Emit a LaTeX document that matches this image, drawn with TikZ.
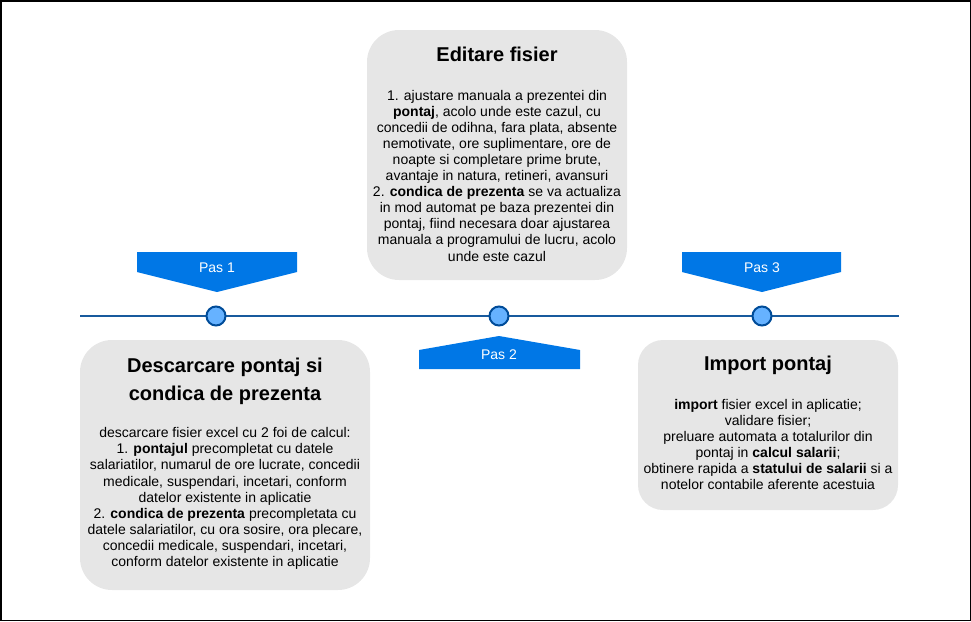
\documentclass[tikz,border=0pt]{standalone}
\usepackage{fontspec}
\setmainfont{Liberation Sans}
\definecolor{boxgray}{HTML}{E6E6E6}
\definecolor{pasblue}{HTML}{0077E6}
\definecolor{dotfill}{HTML}{66B2FF}
\definecolor{dotline}{HTML}{004C99}
\definecolor{tline}{HTML}{185A9D}
\begin{document}
\begin{tikzpicture}[x=1pt,y=-1pt,
  card/.style={fill=boxgray, draw=none, rounded corners=32pt, inner sep=0pt},
  title/.style={font=\fontsize{20}{28.3}\selectfont\bfseries, align=center, inner sep=0pt, text=black},
  body/.style={font=\fontsize{14}{16.1}\selectfont, align=center, inner sep=0pt, text=black},
  dot/.style={circle, fill=dotfill, draw=dotline, line width=2pt, minimum size=19pt, inner sep=0pt},
  pastext/.style={font=\fontsize{14}{16}\selectfont, text=white, inner sep=0pt}]
\useasboundingbox (0,0) rectangle (971,621);
\draw[line width=1.5pt, black] (0.75,0.75) rectangle (970.25,620.25);

% cards
\node[card, minimum width=260pt, minimum height=250pt] (cardtop) at (497,155) {};
\node[card, minimum width=290pt, minimum height=250pt] (cardleft) at (225,465) {};
\node[card, rounded corners=25pt, minimum width=260pt, minimum height=170pt] (cardright) at (768,425) {};

% timeline
\coordinate (tlA) at (80,316);
\coordinate (tlB) at (899,316);
\draw[tline, line width=2pt] (tlA) -- (tlB);
\node[dot] (d1) at (216,316) {};
\node[dot] (d2) at (499,316) {};
\node[dot] (d3) at (762,316) {};

% pas shapes
\fill[pasblue] (137,252) -- (297,252) -- (297,272) -- (217,292) -- (137,272) -- cycle;
\fill[pasblue] (682,252) -- (841,252) -- (841,272) -- (762,292) -- (682,272) -- cycle;
\fill[pasblue] (419,350) -- (499,336) -- (580,350) -- (580,369) -- (419,369) -- cycle;
\node[pastext] (p1) at (217,267.5) {Pas 1};
\node[pastext] (p2) at (499,355) {Pas 2};
\node[pastext] (p3) at (762,267.5) {Pas 3};

% top card text
\node[title] (ttop) at (497,54) {Editare fisier};
\node[body] (btop) at (497,175.5) {1. ajustare manuala a prezentei din\\
\textbf{pontaj}, acolo unde este cazul, cu\\
concedii de odihna, fara plata, absente\\
nemotivate, ore suplimentare, ore de\\
noapte si completare prime brute,\\
avantaje in natura, retineri, avansuri\\
2. \textbf{condica de prezenta} se va actualiza\\
in mod automat pe baza prezentei din\\
pontaj, fiind necesara doar ajustarea\\
manuala a programului de lucru, acolo\\
unde este cazul};

% left card text
\node[title] (tleft) at (225,381) {Descarcare pontaj si\\condica de prezenta};
\node[body] (bleft) at (225,498.5) {descarcare fisier excel cu 2 foi de calcul:\\
1. \textbf{pontajul} precompletat cu datele\\
salariatilor, numarul de ore lucrate, concedii\\
medicale, suspendari, incetari, conform\\
datelor existente in aplicatie\\
2. \textbf{condica de prezenta} precompletata cu\\
datele salariatilor, cu ora sosire, ora plecare,\\
concedii medicale, suspendari, incetari,\\
conform datelor existente in aplicatie};

% right card text
\node[title] (tright) at (768,365) {Import pontaj};
\node[body] (bright) at (768,444.5) {\textbf{import} fisier excel in aplicatie;\\
validare fisier;\\
preluare automata a totalurilor din\\
pontaj in \textbf{calcul salarii};\\
obtinere rapida a \textbf{statului de salarii} si a\\
notelor contabile aferente acestuia};
\end{tikzpicture}
\end{document}
